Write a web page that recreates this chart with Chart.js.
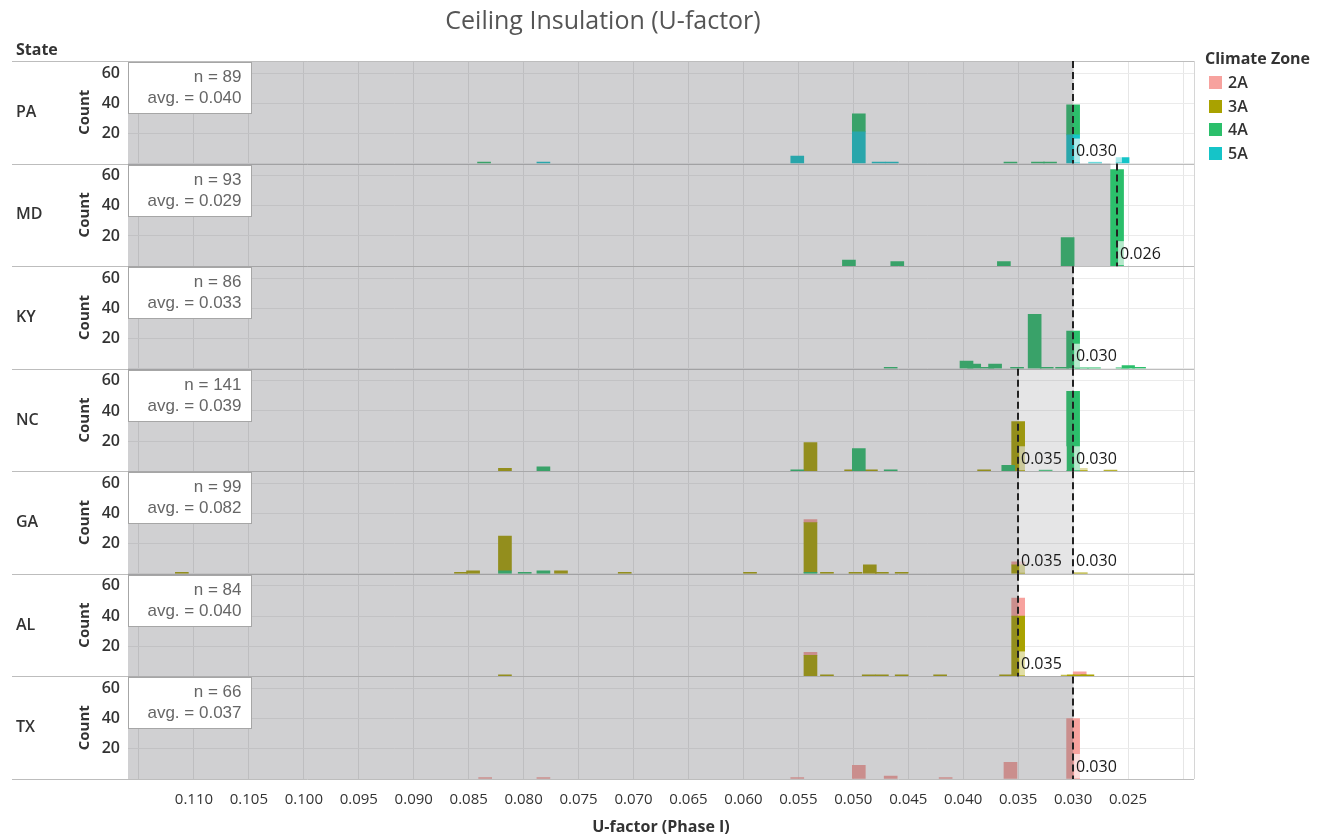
<!DOCTYPE html>
<html>
<head>
<meta charset="utf-8">
<title>Ceiling Insulation (U-factor)</title>
<script src="https://cdn.jsdelivr.net/npm/chart.js@4.4.1/dist/chart.umd.min.js"></script>
<style>
  body { margin: 0; background: #fff; font-family: "Open Sans", sans-serif; }
  #wrap { position: relative; width: 1324px; height: 839px; }
  #title { position: absolute; left: 12px; width: 1182px; top: 2px; text-align: center;
           font-size: 25px; color: #555; }
  .hdr { position: absolute; font-weight: 700; font-size: 16px; color: #333; }
  #legend { position: absolute; left: 1205px; top: 47px; }
  #legend .item { position: relative; height: 23.5px; font-weight: 600; font-size: 16px;
                  color: #333; padding-left: 23px; line-height: 23.5px; }
  #legend .sw { position: absolute; left: 4px; top: 5px; width: 13px; height: 13px; }
</style>
</head>
<body>
<div id="wrap">
  <div id="title">Ceiling Insulation (U-factor)</div>
  <div class="hdr" style="left:16px;top:38px;">State</div>
  <div id="legend">
    <div class="hdr" style="position:static;margin-bottom:2px;">Climate Zone</div>
  </div>
  <canvas id="chart"></canvas>
</div>
<script>
var states = ['PA', 'MD', 'KY', 'NC', 'GA', 'AL', 'TX'];
var zones = ['2A', '3A', '4A', '5A'];
var zoneColors = ['#F7A29E', '#A9A200', '#2BBF6B', '#15C4C8'];
var sampleSize = [89, 93, 86, 141, 99, 84, 66];
var avgU = [0.040, 0.029, 0.033, 0.039, 0.082, 0.040, 0.037];
// code requirement lines per state
var codeLines = [[0.030], [0.026], [0.030], [0.035, 0.030], [0.035, 0.030], [0.035], [0.030]];
// grey shading ends here; light band runs on to bandEnd
var shadeEnd = [0.030, 0.0266, 0.030, 0.035, 0.035, 0.035, 0.030];
var bandEnd = [null, null, null, 0.030, 0.030, null, null];

// rows: [U-factor, 2A, 3A, 4A, 5A]
var PA = [
  [0.0836, 0, 0, 1, 0], [0.0782, 0, 0, 0, 1], [0.0551, 0, 0, 0, 5], [0.0495, 0, 0, 12, 21],
  [0.0477, 0, 0, 0, 1], [0.0465, 0, 0, 0, 1], [0.0357, 0, 0, 1, 0], [0.0332, 0, 0, 1, 0],
  [0.0321, 0, 0, 1, 0], [0.0300, 0, 0, 20, 19], [0.0280, 0, 0, 0, 1], [0.0255, 0, 0, 0, 4]
];
var MD = [
  [0.0504, 0, 0, 4, 0], [0.0460, 0, 0, 3, 0], [0.0363, 0, 0, 3, 0], [0.0305, 0, 0, 19, 0],
  [0.0260, 0, 0, 64, 0]
];
var KY = [
  [0.0466, 0, 0, 1, 0], [0.0397, 0, 0, 5, 0], [0.0390, 0, 0, 3, 0], [0.0378, 0, 0, 1, 0],
  [0.0371, 0, 0, 3, 0], [0.0351, 0, 0, 1, 0], [0.0335, 0, 0, 36, 0], [0.0324, 0, 0, 1, 0],
  [0.0310, 0, 0, 1, 0], [0.0300, 0, 0, 25, 0], [0.0292, 0, 0, 1, 0], [0.0281, 0, 0, 1, 0],
  [0.0255, 0, 0, 1, 0], [0.0250, 0, 0, 2, 0], [0.0240, 0, 0, 1, 0]
];
var NC = [
  [0.0817, 0, 2, 0, 0], [0.0782, 0, 0, 3, 0], [0.0551, 0, 0, 1, 0], [0.0539, 0, 19, 0, 0],
  [0.0502, 0, 1, 0, 0], [0.0495, 0, 0, 15, 0], [0.0484, 0, 1, 0, 0], [0.0466, 0, 0, 1, 0],
  [0.0381, 0, 1, 0, 0], [0.0359, 0, 0, 4, 0], [0.0350, 0, 33, 0, 0], [0.0325, 0, 0, 1, 0],
  [0.0300, 0, 0, 53, 0], [0.0293, 0, 2, 0, 0], [0.0266, 0, 1, 0, 0]
];
var GA = [
  [0.1111, 0, 1, 0, 0], [0.0857, 0, 1, 0, 0], [0.0846, 0, 2, 0, 0], [0.0817, 0, 23, 2, 0],
  [0.0799, 0, 0, 1, 0], [0.0782, 0, 0, 2, 0], [0.0766, 0, 2, 0, 0], [0.0708, 0, 1, 0, 0],
  [0.0594, 0, 1, 0, 0], [0.0539, 2, 33, 1, 0], [0.0524, 0, 1, 0, 0], [0.0498, 0, 1, 0, 0],
  [0.0485, 0, 6, 0, 0], [0.0474, 0, 1, 0, 0], [0.0456, 0, 1, 0, 0], [0.0350, 2, 6, 0, 0],
  [0.0293, 0, 1, 0, 0]
];
var AL = [
  [0.0817, 0, 1, 0, 0], [0.0539, 2, 14, 0, 0], [0.0524, 0, 1, 0, 0], [0.0486, 0, 1, 0, 0],
  [0.0474, 0, 1, 0, 0], [0.0456, 0, 1, 0, 0], [0.0421, 0, 1, 0, 0], [0.0361, 0, 1, 0, 0],
  [0.0350, 12, 40, 0, 0], [0.0305, 0, 1, 0, 0], [0.0294, 2, 1, 0, 0], [0.0287, 0, 1, 0, 0]
];
var TX = [
  [0.0835, 1, 0, 0, 0], [0.0782, 1, 0, 0, 0], [0.0551, 1, 0, 0, 0], [0.0495, 9, 0, 0, 0],
  [0.0466, 2, 0, 0, 0], [0.0416, 1, 0, 0, 0], [0.0357, 11, 0, 0, 0], [0.0300, 40, 0, 0, 0]
];
var rowsByState = [PA, MD, KY, NC, GA, AL, TX];

// legend
var legendEl = document.getElementById('legend');
zones.forEach(function (z, i) {
  var d = document.createElement('div');
  d.className = 'item';
  d.innerHTML = '<span class="sw" style="background:' + zoneColors[i] + '"></span>' + z;
  legendEl.appendChild(d);
});

// 5A at the bottom of each stack, 2A on top
var datasets = [];
rowsByState.forEach(function (rows, s) {
  [3, 2, 1, 0].forEach(function (z) {
    datasets.push({
      label: states[s] + ' ' + zones[z],
      yAxisID: 'y' + s,
      backgroundColor: zoneColors[z],
      borderWidth: 0,
      barThickness: 13,
      data: rows.filter(function (r) { return r[z + 1] > 0; })
                .map(function (r) { return { x: r[0], y: r[z + 1] }; })
    });
  });
});

var scales = {
  x: {
    type: 'linear', reverse: true, min: 0.019, max: 0.116, stacked: true, offset: false,
    grid: { color: '#e6e6e6', drawTicks: false, offset: false },
    border: { display: false },
    ticks: {
      stepSize: 0.005, includeBounds: false, autoSkip: false, maxRotation: 0, padding: 12,
      color: '#333', font: { family: 'Open Sans', size: 15 },
      callback: function (v) { return (v < 0.0245 || v > 0.1105) ? '' : v.toFixed(3); }
    },
    title: { display: true, text: 'U-factor (Phase I)', color: '#333',
             font: { family: 'Open Sans', size: 16, weight: '700' }, padding: { top: 4, bottom: 2 } },
    afterFit: function (sc) { sc.height = 60; }
  }
};
for (var s = states.length - 1; s >= 0; s--) {
  scales['y' + s] = {
    type: 'linear', position: 'left', stack: 'states', stackWeight: 1, stacked: true,
    min: 0, max: 68, offset: false,
    grid: { color: '#ebebeb', drawTicks: false },
    border: { display: false },
    ticks: {
      stepSize: 20, includeBounds: false, autoSkip: false, padding: 8, color: '#333',
      font: { family: 'Open Sans', size: 16, weight: '600' },
      callback: function (v) { return v === 0 ? '' : v; }
    },
    title: { display: true, text: 'Count', color: '#333',
             font: { family: 'Open Sans', size: 15, weight: '700' } },
    afterFit: function (sc) { sc.width = 56; }
  };
}

var panelDecor = {
  id: 'panelDecor',
  afterDatasetsDraw: function (chart) {
    var ctx = chart.ctx, xs = chart.scales.x, area = chart.chartArea;
    ctx.save();
    states.forEach(function (st, s) {
      var ys = chart.scales['y' + s];
      var top = ys.top, bottom = ys.bottom;
      ctx.font = '16px "Open Sans"';
      codeLines[s].forEach(function (u) {
        var px = xs.getPixelForValue(u);
        ctx.fillStyle = 'rgba(255,255,255,0.65)';
        ctx.fillRect(px + 1, bottom - 25, ctx.measureText(u.toFixed(3)).width + 7, 24);
      });
      var shadeX = xs.getPixelForValue(shadeEnd[s]);
      ctx.fillStyle = 'rgba(92,92,100,0.29)';
      ctx.fillRect(area.left, top, shadeX - area.left, bottom - top);
      if (bandEnd[s] !== null) {
        var bandX = xs.getPixelForValue(bandEnd[s]);
        ctx.fillStyle = 'rgba(92,92,100,0.16)';
        ctx.fillRect(shadeX, top, bandX - shadeX, bottom - top);
      }
      // row separators
      ctx.strokeStyle = '#bdbdbd';
      ctx.lineWidth = 1;
      ctx.beginPath();
      if (s === 0) {
        ctx.moveTo(12, Math.round(top) + 0.5);
        ctx.lineTo(area.right, Math.round(top) + 0.5);
      }
      ctx.moveTo(12, Math.round(bottom) + 0.5);
      ctx.lineTo(area.right, Math.round(bottom) + 0.5);
      ctx.stroke();
      // state name
      ctx.fillStyle = '#333';
      ctx.font = '600 16px "Open Sans"';
      ctx.textAlign = 'left';
      ctx.textBaseline = 'middle';
      ctx.fillText(st, 16, (top + bottom) / 2);
      // code lines and their labels
      codeLines[s].forEach(function (u) {
        var px = Math.round(xs.getPixelForValue(u));
        ctx.strokeStyle = '#222';
        ctx.lineWidth = 2;
        ctx.setLineDash([7, 4]);
        ctx.beginPath();
        ctx.moveTo(px, top);
        ctx.lineTo(px, bottom);
        ctx.stroke();
        ctx.setLineDash([]);
        ctx.fillStyle = '#1a1a1a';
        ctx.font = '16px "Open Sans"';
        ctx.fillText(u.toFixed(3), px + 3, bottom - 12);
      });
      // n / avg box
      var bx = Math.round(area.left) + 0.5, by = Math.round(top) + 1.5;
      ctx.fillStyle = '#fff';
      ctx.fillRect(bx, by, 123, 51);
      ctx.strokeStyle = '#a6a6a6';
      ctx.lineWidth = 1;
      ctx.strokeRect(bx, by, 123, 51);
      ctx.fillStyle = '#666';
      ctx.font = '17px "Liberation Sans"';
      ctx.textAlign = 'right';
      ctx.fillText('n = ' + sampleSize[s], bx + 113, by + 15);
      ctx.fillText('avg. = ' + avgU[s].toFixed(3), bx + 113, by + 36);
    });
    // plot frame
    ctx.strokeStyle = '#d6d6d6';
    ctx.lineWidth = 1;
    ctx.beginPath();
    ctx.moveTo(Math.round(area.right) + 0.5, area.top);
    ctx.lineTo(Math.round(area.right) + 0.5, area.bottom);
    ctx.stroke();
    ctx.restore();
  }
};

new Chart(document.getElementById('chart'), {
  type: 'bar',
  data: { datasets: datasets },
  options: {
    responsive: true,
    maintainAspectRatio: false,
    devicePixelRatio: 1,
    animation: false,
    layout: { padding: { left: 72, right: 130, top: 61, bottom: 0 } },
    plugins: { legend: { display: false }, tooltip: { enabled: false } },
    scales: scales
  },
  plugins: [panelDecor]
});
</script>
</body>
</html>
